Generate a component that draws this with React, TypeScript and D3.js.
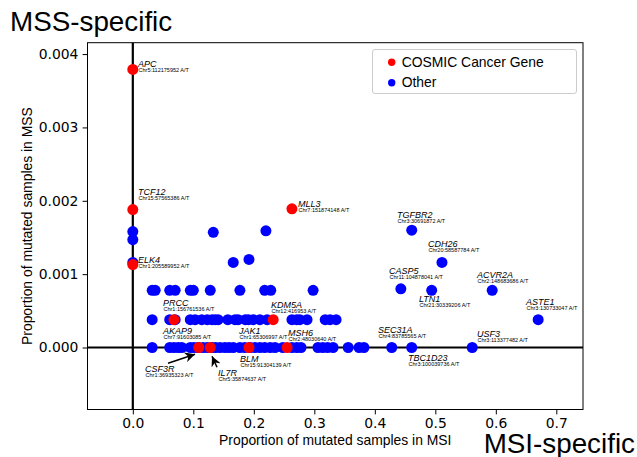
import React, { useEffect, useRef } from "react";
import * as d3 from "d3";

// x = proportion of mutated samples in MSI, y = proportion in MSS
const otherZeroRow = [0.032, 0.061, 0.068, 0.075, 0.081, 0.095, 0.101, 0.108, 0.116, 0.123, 0.131, 0.137, 0.144, 0.152, 0.159, 0.166, 0.177, 0.185, 0.194, 0.202, 0.21, 0.218, 0.227, 0.235, 0.248, 0.263, 0.271, 0.278, 0.306, 0.314, 0.322, 0.331, 0.356, 0.374, 0.382, 0.428, 0.461, 0.561];
const otherLowRow = [0.032, 0.061, 0.07, 0.095, 0.103, 0.114, 0.123, 0.131, 0.136, 0.141, 0.157, 0.169, 0.174, 0.186, 0.191, 0.199, 0.21, 0.222, 0.263, 0.271, 0.276, 0.288, 0.318, 0.326, 0.336, 0.67];
const otherMidRow = [0.032, 0.037, 0.061, 0.07, 0.095, 0.1, 0.128, 0.177, 0.218, 0.228, 0.298, 0.494, 0.594];
const LOW_ROW = 0.00038;
const MID_ROW = 0.00078;

const otherScattered = [
  { x: 0, y: 0.00158 },
  { x: 0, y: 0.00147 },
  { x: 0, y: 0.00116 },
  { x: 0.133, y: 0.00157 },
  { x: 0.22, y: 0.00159 },
  { x: 0.166, y: 0.00116 },
  { x: 0.192, y: 0.0012 },
  { x: 0.461, y: 0.0016 },
  { x: 0.511, y: 0.00116 },
  { x: 0.443, y: 0.0008 },
];

const cosmicGenes = [
  { gene: "APC", x: 0, y: 0.00379 },
  { gene: "TCF12", x: 0, y: 0.00188 },
  { gene: "ELK4", x: 0, y: 0.00113 },
  { gene: "MLL3", x: 0.263, y: 0.00189 },
  { gene: "PRCC", x: 0.068, y: LOW_ROW },
  { gene: "KDM5A", x: 0.232, y: LOW_ROW },
  { gene: "CSF3R", x: 0.109, y: 0 },
  { gene: "IL7R", x: 0.128, y: 0 },
  { gene: "BLM", x: 0.192, y: 0 },
  { gene: "MSH6", x: 0.255, y: 0 },
];

// text anchors in data coordinates
const geneLabels = [
  { gene: "APC", chr: "Chr5:112175952 A/T", tx: 0.0086, ty: 0.003824 },
  { gene: "TCF12", chr: "Chr15:57565386 A/T", tx: 0.0086, ty: 0.002078 },
  { gene: "ELK4", chr: "Chr1:205589952 A/T", tx: 0.0086, ty: 0.001154 },
  { gene: "MLL3", chr: "Chr7:151874148 A/T", tx: 0.273, ty: 0.001918 },
  { gene: "TGFBR2", chr: "Chr3:30691872 A/T", tx: 0.4367, ty: 0.001768 },
  { gene: "CDH26", chr: "Chr20:58587784 A/T", tx: 0.4879, ty: 0.001368 },
  { gene: "CASP5", chr: "Chr11:104878041 A/T", tx: 0.4235, ty: 0.001 },
  { gene: "ACVR2A", chr: "Chr2:148683686 A/T", tx: 0.5689, ty: 0.00095 },
  { gene: "LTN1", chr: "Chr21:30339206 A/T", tx: 0.473, ty: 0.000618 },
  { gene: "ASTE1", chr: "Chr3:130733047 A/T", tx: 0.6499, ty: 0.000577 },
  { gene: "USF3", chr: "Chr3:113377482 A/T", tx: 0.5689, ty: 0.000145 },
  { gene: "SEC31A", chr: "Chr4:83785565 A/T", tx: 0.4053, ty: 0.000195 },
  { gene: "TBC1D23", chr: "Chr3:100039736 A/T", tx: 0.4549, ty: -0.000183 },
  { gene: "PRCC", chr: "Chr1:156761536 A/T", tx: 0.0499, ty: 0.000563 },
  { gene: "KDM5A", chr: "Chr12:416953 A/T", tx: 0.2284, ty: 0.000536 },
  { gene: "AKAP9", chr: "Chr7:91603085 A/T", tx: 0.0499, ty: 0.000181 },
  { gene: "JAK1", chr: "Chr1:65306997 A/T", tx: 0.1757, ty: 0.000181 },
  { gene: "MSH6", chr: "Chr2:48030640 A/T", tx: 0.2565, ty: 0.000154 },
  { gene: "BLM", chr: "Chr15:91304139 A/T", tx: 0.1772, ty: -0.0002 },
  { gene: "CSF3R", chr: "Chr1:36935323 A/T", tx: 0.0202, ty: -0.000333 },
  { gene: "IL7R", chr: "Chr5:35874637 A/T", tx: 0.1408, ty: -0.000392 },
];

const arrowNotes = [
  { gene: "CSF3R", x1: 0.0582, y1: -0.000214, x2: 0.1028, y2: -0.000091 },
  { gene: "IL7R", x1: 0.1392, y1: -0.000269, x2: 0.1309, y2: -0.000119 },
];

const xTicks = [0, 0.1, 0.2, 0.3, 0.4, 0.5, 0.6, 0.7];
const yTicks = [0, 0.001, 0.002, 0.003, 0.004];

const RED = "#ff0000";
const BLUE = "#0000ff";
const SANS = "'Liberation Sans', Arial, sans-serif";
const TICKFONT = "'DejaVu Sans', sans-serif";

const App = () => {
  const svgRef = useRef<SVGSVGElement | null>(null);

  useEffect(() => {
    const width = 637;
    const height = 457;
    const box = { left: 87.5, right: 583, top: 42.7, bottom: 409.5 };

    const svg = d3.select(svgRef.current);
    svg.selectAll("*").remove();
    svg.attr("width", width).attr("height", height);

    const x = d3.scaleLinear().domain([-0.0749, 0.7441]).range([box.left, box.right]);
    const y = d3.scaleLinear().domain([-0.000845, 0.004155]).range([box.bottom, box.top]);

    svg.append("defs").append("marker")
      .attr("id", "head")
      .attr("viewBox", "0 0 10 10")
      .attr("refX", 10)
      .attr("refY", 5)
      .attr("markerWidth", 10)
      .attr("markerHeight", 10)
      .attr("markerUnits", "userSpaceOnUse")
      .attr("orient", "auto")
      .append("path")
      .attr("d", "M0,0 L10,5 L0,10 L3,5 Z")
      .attr("fill", "black");

    svg.append("rect")
      .attr("width", width).attr("height", height).attr("fill", "white");

    // zero lines
    svg.append("line")
      .attr("x1", box.left).attr("x2", box.right)
      .attr("y1", y(0)).attr("y2", y(0))
      .attr("stroke", "black").attr("stroke-width", 2);
    svg.append("line")
      .attr("x1", x(0)).attr("x2", x(0))
      .attr("y1", box.top).attr("y2", box.bottom)
      .attr("stroke", "black").attr("stroke-width", 2.2);

    const others = [
      ...otherZeroRow.map(v => ({ x: v, y: 0 })),
      ...otherLowRow.map(v => ({ x: v, y: LOW_ROW })),
      ...otherMidRow.map(v => ({ x: v, y: MID_ROW })),
      ...otherScattered,
    ];

    svg.append("g").selectAll("circle")
      .data(others)
      .enter().append("circle")
      .attr("cx", d => x(d.x))
      .attr("cy", d => y(d.y))
      .attr("r", 5.5)
      .attr("fill", BLUE);

    svg.append("g").selectAll("circle")
      .data(cosmicGenes)
      .enter().append("circle")
      .attr("cx", d => x(d.x))
      .attr("cy", d => y(d.y))
      .attr("r", 5.5)
      .attr("fill", RED);

    // gene annotations
    const labels = svg.append("g").selectAll("g")
      .data(geneLabels)
      .enter().append("g")
      .attr("transform", d => `translate(${x(d.tx)},${y(d.ty)})`);
    labels.append("text")
      .attr("font-family", SANS)
      .attr("font-style", "italic")
      .attr("font-size", 9)
      .text(d => d.gene);
    labels.append("text")
      .attr("x", 0.5)
      .attr("y", 4.7)
      .attr("font-family", SANS)
      .attr("font-size", 5.5)
      .text(d => d.chr);

    svg.append("g").selectAll("line")
      .data(arrowNotes)
      .enter().append("line")
      .attr("x1", d => x(d.x1)).attr("y1", d => y(d.y1))
      .attr("x2", d => x(d.x2)).attr("y2", d => y(d.y2))
      .attr("stroke", "black").attr("stroke-width", 1.5)
      .attr("marker-end", "url(#head)");

    // frame
    svg.append("rect")
      .attr("x", box.left).attr("y", box.top)
      .attr("width", box.right - box.left).attr("height", box.bottom - box.top)
      .attr("fill", "none").attr("stroke", "black").attr("stroke-width", 1);

    // axes
    const xAxis = svg.append("g")
      .attr("transform", `translate(0,${box.bottom})`)
      .call(d3.axisBottom(x).tickValues(xTicks).tickFormat(d3.format(".1f")).tickSize(4.9).tickPadding(4.2));
    const yAxis = svg.append("g")
      .attr("transform", `translate(${box.left},0)`)
      .call(d3.axisLeft(y).tickValues(yTicks).tickFormat(d3.format(".3f")).tickSize(4.9).tickPadding(4.2));
    [xAxis, yAxis].forEach(a => {
      a.select(".domain").remove();
      a.selectAll("line").attr("stroke", "black");
      a.selectAll("text")
        .attr("font-family", TICKFONT)
        .attr("font-size", 13.9)
        .attr("fill", "black");
    });

    svg.append("text")
      .attr("x", (box.left + box.right) / 2)
      .attr("y", 444.5)
      .attr("text-anchor", "middle")
      .attr("font-family", SANS)
      .attr("font-size", 13.9)
      .text("Proportion of mutated samples in MSI");

    svg.append("text")
      .attr("transform", `translate(31.5,${(box.top + box.bottom) / 2}) rotate(-90)`)
      .attr("text-anchor", "middle")
      .attr("font-family", SANS)
      .attr("font-size", 13.9)
      .text("Proportion of mutated samples in MSS");

    svg.append("text")
      .attr("x", 10).attr("y", 31)
      .attr("font-family", SANS)
      .attr("font-size", 27.8)
      .text("MSS-specific");
    svg.append("text")
      .attr("x", 635).attr("y", 453)
      .attr("text-anchor", "end")
      .attr("font-family", SANS)
      .attr("font-size", 27.8)
      .text("MSI-specific");

    // legend
    const legend = svg.append("g");
    legend.append("rect")
      .attr("x", 372.5).attr("y", 49.5)
      .attr("width", 204).attr("height", 44)
      .attr("rx", 2.5)
      .attr("fill", "white").attr("fill-opacity", 0.8)
      .attr("stroke", "#cccccc");
    const items = [
      { label: "COSMIC Cancer Gene", color: RED },
      { label: "Other", color: BLUE },
    ];
    items.forEach((it, i) => {
      legend.append("circle")
        .attr("cx", 391.7).attr("cy", 62.3 + i * 20.4)
        .attr("r", 3.7).attr("fill", it.color);
      legend.append("text")
        .attr("x", 401.7).attr("y", 67 + i * 20.4)
        .attr("font-family", SANS)
        .attr("font-size", 13.9)
        .text(it.label);
    });
  }, []);

  return (
    <div>
      <svg ref={svgRef} style={{ position: "absolute", left: 0, top: 0 }} />
    </div>
  );
};

export default App;
